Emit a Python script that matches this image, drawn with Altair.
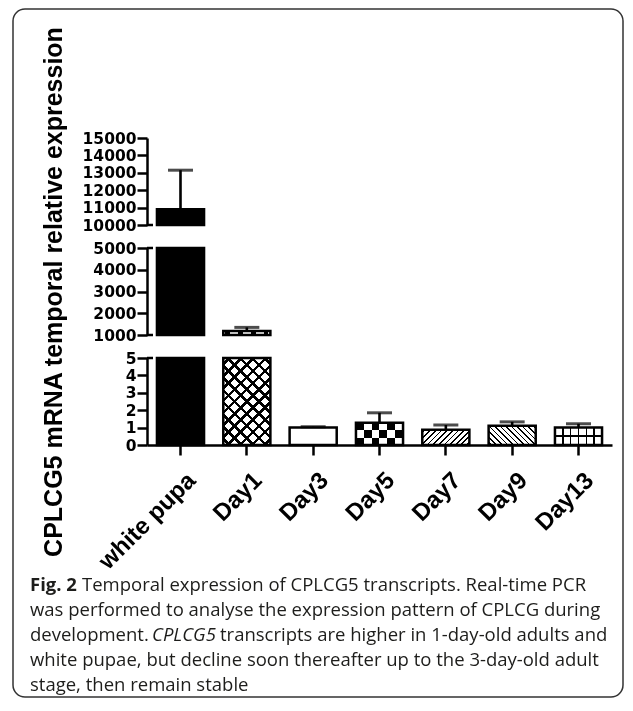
import math
import altair as alt
import pandas as pd

# ---------------- data ----------------
categories = ["white pupa", "Day1", "Day3", "Day5", "Day7", "Day9", "Day13"]
means = [10900, 1180, 1.00, 1.28, 0.87, 1.10, 1.00]
err_tops = [13150, 1350, 1.05, 1.85, 1.15, 1.33, 1.22]
patterns = ["solid", "cross", "empty", "checker", "fwd", "back", "grid"]

seg_top = [10000, 15000]
seg_mid = [1000, 5000]
seg_low = [0, 5]
ticks_top = [10000, 11000, 12000, 13000, 14000, 15000]
ticks_mid = [1000, 2000, 3000, 4000, 5000]
ticks_low = [0, 1, 2, 3, 4, 5]

y_title = "CPLCG5 mRNA temporal relative expression"
cap_fig = "Fig. 2"
cap_l1 = "Temporal expression of CPLCG5 transcripts. Real-time PCR"
cap_l2 = "was performed to analyse the expression pattern of CPLCG during"
cap_l3a = "development."
cap_l3i = "CPLCG5"
cap_l3b = "transcripts are higher in 1-day-old adults and"
cap_l4 = "white pupae, but decline soon thereafter up to the 3-day-old adult"
cap_l5 = "stage, then remain stable"

df = pd.DataFrame({"cat": categories, "mean": means, "top": err_tops, "pat": patterns})

# ---------------- layout constants ----------------
W, H, GAP = 465, 87, 23
P_IN, P_OUT = 0.29, 0.15
STEP = W / (len(categories) - P_IN + 2 * P_OUT)
BW = STEP * (1 - P_IN)
FONT = "Liberation Sans"
TICKFONT = "DejaVu Sans"
CAPFONT = "Open Sans"
CAPSIZE = 18.5
CLEAR = "rgba(255,255,255,0)"


def stops_from_bands(bands, base):
    stops, pos = [], 0.0
    for a, b, c in bands:
        a = max(0.0, min(1.0, a))
        b = max(0.0, min(1.0, b))
        if b <= a or a < pos:
            continue
        stops += [(pos, base), (a, base), (a, c), (b, c)]
        pos = b
    stops += [(pos, base), (1.0, base)]
    return [alt.GradientStop(offset=round(o, 4), color=c) for o, c in stops]


def gradient(direction, w, h, bands, base):
    r = h / w if w else 1
    k = (1 + r) / (1 + r * r)
    if direction == "/":
        c = dict(x1=0, y1=0, x2=k, y2=k * r)
    elif direction == "\\":
        c = dict(x1=0, y1=1, x2=k, y2=1 - k * r)
    elif direction == "|":
        c = dict(x1=0, y1=0, x2=1, y2=0)
    else:
        c = dict(x1=0, y1=0, x2=0, y2=1)
    return alt.Gradient(gradient="linear", stops=stops_from_bands(bands, base), **c)


def hatch(direction, w, h, sx, lw, color="black", base=CLEAR):
    n = max(1, round((w + h) / sx))
    frac = min(0.9, lw * math.sqrt(2) * n / (w + h))
    bands = [((i + 0.5 - frac / 2) / n, (i + 0.5 + frac / 2) / n, color) for i in range(n)]
    return gradient(direction, w, h, bands, base)


def grid_lines(direction, n, span, lw, color="black", base=CLEAR):
    frac = lw / span
    bands = [(i / n - frac / 2, i / n + frac / 2, color) for i in range(1, n)]
    return gradient(direction, 1, 1, bands, base)


def panel(lo, hi, ticks, last, title):
    yscale = alt.Scale(domain=[lo, hi], clamp=True, zero=False, nice=False)
    yaxis = alt.Axis(
        values=ticks, title=title, grid=False, format="d",
        domainColor="black", domainWidth=2.5, tickColor="black", tickWidth=2.5,
        tickSize=10, labelFont=TICKFONT, labelFontWeight="bold", labelFontSize=15.5,
        labelColor="black", labelPadding=1, labelOverlap=False, labelFlush=False,
        titleFont=FONT, titleFontWeight="bold", titleFontSize=25, titleColor="black",
        titleAngle=270, titleAlign="center", titleBaseline="alphabetic",
        titleX=-86, titleY=H / 2,
    )
    xscale = alt.Scale(domain=categories, paddingInner=P_IN, paddingOuter=P_OUT)
    if last:
        xaxis = alt.Axis(
            title=None, domainColor="black", domainWidth=2.5, tickColor="black",
            tickWidth=2.5, tickSize=10, labelAngle=315, labelAlign="right",
            labelBaseline="top", labelFont=FONT, labelFontWeight="bold",
            labelFontSize=24, labelColor="black", labelPadding=13, labelOffset=3,
        )
    else:
        xaxis = None
    X = alt.X("cat:N", scale=xscale, axis=xaxis, sort=categories)
    Y = alt.Y("mean:Q", scale=yscale, axis=yaxis)
    base = alt.Chart(df)

    def bar(cat, **kw):
        return (
            base.transform_filter(alt.datum.cat == cat)
            .transform_filter(alt.datum.mean > lo)
            .mark_bar(**kw)
            .encode(x=X, y=Y, y2=alt.datum(lo))
        )

    layers = []
    for cat, m, pat in zip(categories, means, patterns):
        if m <= lo:
            continue
        h = (min(m, hi) - lo) / (hi - lo) * H
        if pat == "solid":
            layers.append(bar(cat, fill="black", strokeWidth=0))
        elif pat == "empty":
            layers.append(bar(cat, fill="white", strokeWidth=0))
        elif pat == "cross":
            layers.append(bar(cat, fill="white", strokeWidth=0))
            layers.append(bar(cat, fill=hatch("/", BW, h, 12, 2.6), strokeWidth=0))
            layers.append(bar(cat, fill=hatch("\\", BW, h, 12, 2.6), strokeWidth=0))
        elif pat == "fwd":
            layers.append(bar(cat, fill=hatch("/", BW, h, 5.5, 1.3, base="white"), strokeWidth=0))
        elif pat == "back":
            layers.append(bar(cat, fill=hatch("\\", BW, h, 5.5, 1.3, base="white"), strokeWidth=0))
        elif pat == "grid":
            layers.append(bar(cat, fill="white", strokeWidth=0))
            layers.append(bar(cat, fill=grid_lines("|", 6, BW, 1.6), strokeWidth=0))
            layers.append(bar(cat, fill=grid_lines("-", 2, h, 1.6), strokeWidth=0))
        elif pat == "checker":
            cols = [(j / 6, (j + 1) / 6, "black") for j in range(0, 6, 2)]
            rows = [(1 / 3, 2 / 3, "white")]
            layers.append(bar(cat, fill=gradient("|", 1, 1, cols, "white"), strokeWidth=0))
            layers.append(bar(cat, fill=gradient("-", 1, 1, rows, CLEAR), strokeWidth=0,
                              blend="difference"))
    # outlines
    layers.append(
        base.transform_filter(alt.datum.mean > lo)
        .mark_bar(fill="transparent", stroke="black", strokeWidth=2.5)
        .encode(x=X, y=Y, y2=alt.datum(lo))
    )
    # error bars
    err = base.transform_filter((alt.datum.mean >= lo) & (alt.datum.mean <= hi))
    layers.append(err.mark_rule(color="black", strokeWidth=2.6).encode(x=X, y=Y, y2="top:Q"))
    layers.append(
        err.mark_tick(color="black", size=25, thickness=3).encode(
            x=X, y=alt.Y("top:Q", scale=yscale, axis=yaxis)
        )
    )
    # axis break stubs
    stubs = []
    if lo != 0:
        stubs.append(lo)
    if hi != seg_top[1]:
        stubs.append(hi)
    for v in stubs:
        layers.append(
            alt.Chart(pd.DataFrame({"v": [v]}))
            .mark_rule(color="black", strokeWidth=2.5)
            .encode(x=alt.value(0), x2=alt.value(6), y=alt.Y("v:Q", scale=yscale, axis=yaxis))
        )

    if last:
        one = pd.DataFrame({"k": [0]})
        ox, oy = 147, 358  # page position of this panel's origin (used for decoration)

        def txt(s, x, y, **kw):
            style = dict(font=CAPFONT, fontSize=CAPSIZE, color="#1d1d1b", align="left",
                         baseline="middle")
            style.update(kw)
            return alt.Chart(one).mark_text(text=s, **style).encode(
                x=alt.value(x - ox), y=alt.value(y - oy)
            )

        layers += [
            txt(cap_fig, 30, 585, fontWeight="bold"),
            txt(cap_l1, 82, 585),
            txt(cap_l2, 30, 610),
            txt(cap_l3a, 30, 635),
            txt(cap_l3i, 152, 635, fontStyle="italic"),
            txt(cap_l3b, 220, 635),
            txt(cap_l4, 30, 660),
            txt(cap_l5, 30, 685),
        ]
        layers.append(
            alt.Chart(one)
            .mark_rect(fill="transparent", stroke="#333333", strokeWidth=1.5, cornerRadius=12)
            .encode(x=alt.value(13 - ox), x2=alt.value(623 - ox),
                    y=alt.value(9 - oy), y2=alt.value(697 - oy))
        )

    return alt.layer(*layers).properties(width=W, height=H)


top = panel(seg_top[0], seg_top[1], ticks_top, False, None)
mid = panel(seg_mid[0], seg_mid[1], ticks_mid, False, y_title)
low = panel(seg_low[0], seg_low[1], ticks_low, True, None)

chart = (
    alt.vconcat(top, mid, low, spacing=GAP, bounds="flush")
    .resolve_scale(x="independent", y="independent")
    .properties(padding={"left": 4, "top": 0, "right": 0, "bottom": 0})
    .configure_view(stroke=None)
)

chart.save("out.html", embed_options={"renderer": "svg", "actions": False})
